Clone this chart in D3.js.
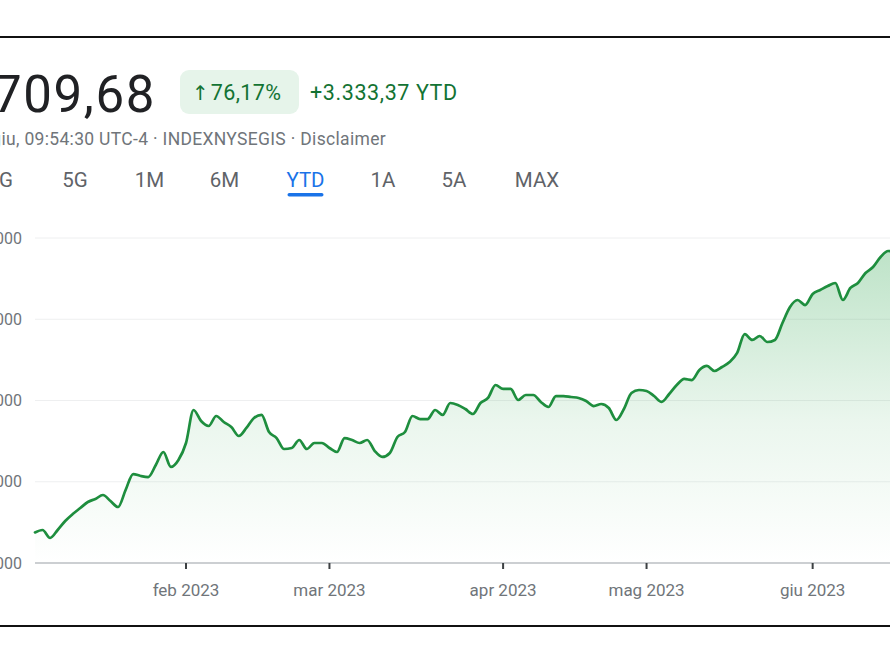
<!DOCTYPE html>
<html><head><meta charset="utf-8">
<script src="https://cdn.jsdelivr.net/npm/d3@7"></script>
<style>
html,body{margin:0;padding:0;background:#fff;overflow:hidden;}
svg{display:block;font-family:Roboto,"Noto Sans",sans-serif;}
</style></head>
<body>
<svg id="chart" width="890" height="664"></svg>
<script>
// ---- data (trading-day index from 3 Jan 2023) ----
const values = [
 4376,4406,4308,4406,4517,4603,4677,4751,4788,4837,
 4763,4689,4898,5095,5071,5058,5206,5366,5182,5268,
 5477,5883,5748,5686,5809,5735,5674,5563,5662,5785,
 5822,5612,5538,5403,5415,5514,5403,5477,5477,5415,
 5366,5538,5514,5477,5514,5378,5305,5354,5551,5612,
 5809,5772,5772,5883,5822,5969,5945,5895,5834,5969,
 6031,6191,6142,6142,6006,6068,6068,5982,5920,6055,
 6055,6043,6031,5994,5932,5957,5908,5760,5895,6092,
 6129,6117,6055,5982,6080,6191,6265,6252,6375,6425,
 6363,6412,6474,6585,6818,6745,6794,6720,6745,6954,
 7151,7237,7175,7311,7360,7409,7446,7237,7385,7446,
 7569,7643,7766,7840,7815
];
const monthTickIndex = [20, 39, 62, 81, 103];
const monthTickLabels = ["feb 2023", "mar 2023", "apr 2023", "mag 2023", "giu 2023"];
const yTicks = [4000, 5000, 6000, 7000, 8000];
const tabs = ["1G", "5G", "1M", "6M", "YTD", "1A", "5A", "MAX"];
const tabX = [0, 75, 149.5, 224.5, 305.5, 383, 454, 537];
const activeTab = "YTD";
const price = "7.709,68";
const pctChange = "76,17%";
const absChange = "+3.333,37 YTD";
const subtitle = "15 giu, 09:54:30 UTC-4 · INDEXNYSEGIS · Disclaimer";

const svg = d3.select("#chart");
const W = 890;

// frame lines
svg.append("line").attr("x1",0).attr("x2",W).attr("y1",37).attr("y2",37)
  .attr("stroke","#111").attr("stroke-width",2);
svg.append("line").attr("x1",0).attr("x2",W).attr("y1",626).attr("y2",626)
  .attr("stroke","#111").attr("stroke-width",2);

// header
svg.append("text").attr("x",156).attr("y",112).attr("text-anchor","end")
  .attr("font-size",51).attr("letter-spacing",1.6).attr("fill","#202124").text(price);
svg.append("rect").attr("x",180).attr("y",70).attr("width",119).attr("height",44)
  .attr("rx",9).attr("fill","#e6f4ea");
const pt = svg.append("text").attr("x",192).attr("y",100).attr("font-size",21.5)
  .attr("fill","#137333");
pt.append("tspan").attr("font-family","'DejaVu Sans'").attr("font-size",20).text("↑");
pt.append("tspan").attr("dx",2).attr("letter-spacing",0.4).text(pctChange);
svg.append("text").attr("x",310).attr("y",100).attr("font-size",21.5)
  .attr("letter-spacing",0.6).attr("fill","#137333").text(absChange);
svg.append("text").attr("x",386).attr("y",145).attr("text-anchor","end")
  .attr("font-size",17.5).attr("letter-spacing",0.32).attr("fill","#70757a").text(subtitle);

// tabs
tabs.forEach((t,i)=>{
  const on = t===activeTab;
  svg.append("text").attr("x", i===0 ? 13 : tabX[i]).attr("y",187)
    .attr("text-anchor", i===0 ? "end" : "middle")
    .attr("font-size",20.5).attr("fill", on ? "#1a73e8" : "#5f6368").text(t);
  if(on){
    svg.append("rect").attr("x",tabX[i]-18).attr("y",193).attr("width",36).attr("height",3.5)
      .attr("rx",1.75).attr("fill","#1a73e8");
  }
});

// scales
const x = d3.scaleLinear().domain([0, values.length-1]).range([35, 35 + (values.length-1)*7.55]);
const y = d3.scaleLinear().domain([4000, 8000]).range([563, 238]);

// gridlines
svg.append("g").selectAll("line").data(yTicks.slice(1)).join("line")
  .attr("x1",35).attr("x2",W).attr("y1",d=>y(d)).attr("y2",d=>y(d))
  .attr("stroke","#eeeff0").attr("stroke-width",1);

// y labels
const fmt = d3.formatLocale({decimal:",", thousands:".", grouping:[3], currency:["€",""]}).format(",d");
svg.append("g").selectAll("text").data(yTicks).join("text")
  .attr("x",22).attr("y",d=>y(d)+5.5).attr("text-anchor","end")
  .attr("font-size",16).attr("fill","#70757a").text(d=>fmt(d));

// area gradient
const defs = svg.append("defs");
const grad = defs.append("linearGradient").attr("id","g").attr("x1",0).attr("x2",0)
  .attr("y1",0).attr("y2",1).attr("gradientUnits","objectBoundingBox");
grad.append("stop").attr("offset","0%").attr("stop-color","#34a853").attr("stop-opacity",0.32);
grad.append("stop").attr("offset","55%").attr("stop-color","#34a853").attr("stop-opacity",0.1);
grad.append("stop").attr("offset","100%").attr("stop-color","#34a853").attr("stop-opacity",0.0);

const area = d3.area().x((d,i)=>x(i)).y0(y(4000)).y1(d=>y(d)).curve(d3.curveMonotoneX);
const line = d3.line().x((d,i)=>x(i)).y(d=>y(d)).curve(d3.curveMonotoneX);

svg.append("path").datum(values).attr("d",area).attr("fill","url(#g)");

// axis baseline
svg.append("line").attr("x1",35).attr("x2",W).attr("y1",563).attr("y2",563)
  .attr("stroke","#9aa0a6").attr("stroke-width",1.2);

svg.append("path").datum(values).attr("d",line).attr("fill","none")
  .attr("stroke","#1e8e3e").attr("stroke-width",2.7)
  .attr("stroke-linejoin","round").attr("stroke-linecap","round");

// x ticks
const xt = svg.append("g");
xt.selectAll("line").data(monthTickIndex).join("line")
  .attr("x1",d=>x(d)).attr("x2",d=>x(d)).attr("y1",563).attr("y2",569)
  .attr("stroke","#3c4043").attr("stroke-width",2);
xt.selectAll("text").data(monthTickIndex).join("text")
  .attr("x",d=>x(d)).attr("y",596).attr("text-anchor","middle")
  .attr("font-size",17).attr("fill","#70757a").text((d,i)=>monthTickLabels[i]);
</script>
</body></html>
